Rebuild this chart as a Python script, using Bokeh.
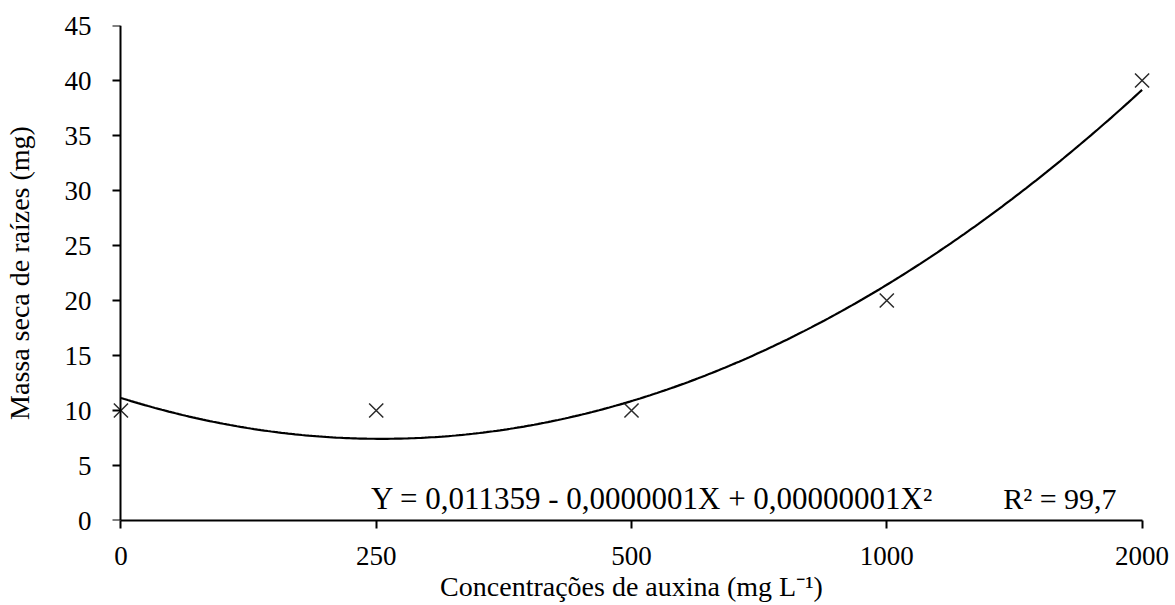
import numpy as np
from bokeh.plotting import figure
from bokeh.models import Range1d, FixedTicker, Label, LinearAxis
from bokeh.embed import file_html
from bokeh.resources import INLINE

concentrations = ["0", "250", "500", "1000", "2000"]
massa = [10, 10, 10, 20, 40]
y_ticks = [0, 5, 10, 15, 20, 25, 30, 35, 40, 45]
equation = "Y = 0,011359 - 0,0000001X + 0,00000001X\u00b2"
r2_text = "R\u00b2 = 99,7"

FONT = "Liberation Serif"
TICK_FS = "27px"
LABEL_FS = "28px"

idx = np.arange(len(concentrations))
coef = np.polyfit(idx, massa, 2)
xs = np.linspace(0, len(concentrations) - 1, 300)
ys = np.polyval(coef, xs)

pad = 0.08
p = figure(width=1172, height=605, output_backend="svg", toolbar_location=None,
           x_range=Range1d(-pad, len(concentrations) - 1 + pad), y_range=Range1d(0, 45),
           min_border_left=100, min_border_right=10, min_border_top=25, min_border_bottom=85)
p.outline_line_color = None
p.xgrid.visible = False
p.ygrid.visible = False
p.background_fill_color = "white"

p.line(xs, ys, line_color="black", line_width=2.2)
p.scatter(idx, massa, marker="x", size=20, line_color="#2a2a2a", line_width=1.5)

# x axis (below), line limited to the data span
xa = p.xaxis[0]
xa.ticker = FixedTicker(ticks=list(idx))
xa.major_label_overrides = {int(i): c for i, c in zip(idx, concentrations)}
xa.bounds = (0, len(concentrations) - 1)
xa.axis_line_width = 2
xa.axis_line_color = "black"
xa.major_tick_line_width = 2
xa.major_tick_line_color = "black"
xa.major_tick_in = 0
xa.major_tick_out = 8
xa.minor_tick_line_color = None
xa.major_label_standoff = 18
xa.axis_label = "Concentrações de auxina (mg L\u207b\u00b9)"
xa.axis_label_standoff = 3

# left axis: tick labels and title only
ya = p.yaxis[0]
ya.ticker = FixedTicker(ticks=y_ticks)
ya.axis_line_color = None
ya.major_tick_line_color = None
ya.minor_tick_line_color = None
ya.major_tick_in = 0
ya.major_tick_out = 0
ya.major_label_standoff = 9
ya.axis_label = "Massa seca de raízes (mg)"
ya.axis_label_standoff = 27

for ax in (xa, ya):
    ax.major_label_text_font = FONT
    ax.major_label_text_font_size = TICK_FS
    ax.major_label_text_color = "black"
    ax.axis_label_text_font = FONT
    ax.axis_label_text_font_size = LABEL_FS
    ax.axis_label_text_font_style = "normal"
    ax.axis_label_text_color = "black"

# axis line and ticks placed at x = 0
yline = LinearAxis(ticker=FixedTicker(ticks=y_ticks), fixed_location=0, bounds=(0, 45),
                   axis_line_width=2, axis_line_color="black",
                   major_tick_line_width=2, major_tick_line_color="black",
                   major_tick_in=8, major_tick_out=0, minor_tick_line_color=None,
                   major_label_text_color=None, major_label_text_font_size="1px")
p.add_layout(yline, "right")

p.add_layout(Label(x=0.98, y=2.0, text=equation, text_font=FONT, text_font_size="31px",
                   text_color="black", text_baseline="alphabetic"))
p.add_layout(Label(x=3.456, y=2.0, text=r2_text, text_font=FONT, text_font_size="30px",
                   text_color="black", text_baseline="alphabetic"))

open("out.html", "w").write(file_html(p, INLINE))
